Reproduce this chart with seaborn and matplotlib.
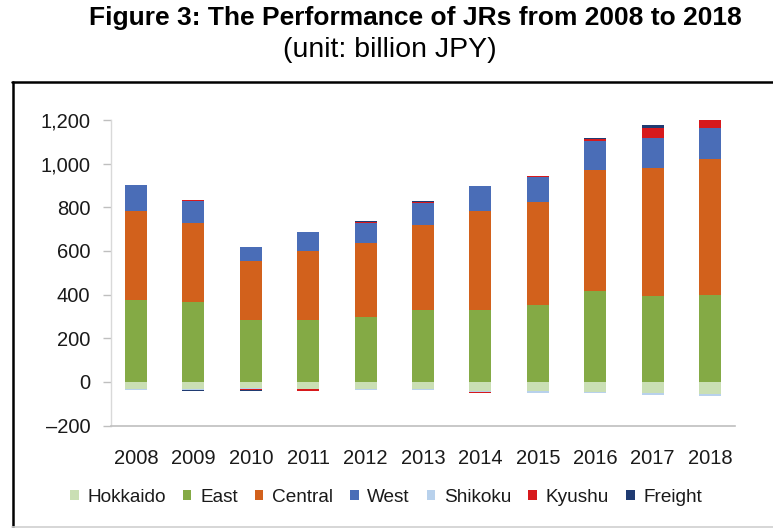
import matplotlib
matplotlib.use("Agg")
import matplotlib.pyplot as plt
import seaborn as sns
import numpy as np
import pandas as pd
from matplotlib.patches import Patch
from matplotlib.lines import Line2D
from matplotlib.ticker import FuncFormatter

years = ["2008", "2009", "2010", "2011", "2012", "2013", "2014", "2015", "2016", "2017", "2018"]
hokkaido = [-32, -33, -27, -32, -32, -33, -43, -44, -47, -53, -56]
east = [375, 366, 285, 285, 298, 330, 330, 353, 415, 394, 398]
central = [408, 362, 271, 316, 340, 388, 455, 473, 556, 587, 622]
west = [118, 100, 61, 86, 90, 103, 113, 111, 131, 138, 145]
shikoku = [-5, -4, -5, -3, -4, -4, -2, -6, -6, -6, -7]
kyushu = [0, 5, -5, -5, 6, 5, -8, 5, 9, 46, 38]
freight = [0, -4, -3, 0, 2, 4, 0, 3, 6, 11, 2]

series_names = ["Hokkaido", "East", "Central", "West", "Shikoku", "Kyushu", "Freight"]
series_values = [hokkaido, east, central, west, shikoku, kyushu, freight]
series_colors = ["#CADFB4", "#84AA45", "#D2611C", "#4A6DB7", "#B8D1EC", "#D7191C", "#203B72"]

yticks = [-200, 0, 200, 400, 600, 800, 1000, 1200]

sns.set_theme(style="white")
plt.rcParams["font.family"] = ["Liberation Sans", "DejaVu Sans"]

fig = plt.figure(figsize=(7.73, 5.28), dpi=100)
ax = fig.add_axes([111 / 773, 1 - 425.5 / 528, (735 - 111) / 773, (425.5 - 120) / 528])

pos_base = np.zeros(len(years))
neg_base = np.zeros(len(years))
for name, vals, col in zip(series_names, series_values, series_colors):
    v = np.array(vals, dtype=float)
    bottom = np.where(v >= 0, pos_base, neg_base)
    df = pd.DataFrame({"year": years, "value": v})
    sns.barplot(data=df, x="year", y="value", order=years, color=col,
                saturation=1, width=0.38, errorbar=None, bottom=bottom,
                linewidth=0, ax=ax)
    pos_base = pos_base + np.where(v >= 0, v, 0)
    neg_base = neg_base + np.where(v < 0, v, 0)

ax.set_xlabel("")
ax.set_ylabel("")
ax.set_xlim(-0.435, 10.435)
ax.set_ylim(-200, 1200)
ax.set_yticks(yticks)
ax.yaxis.set_major_formatter(FuncFormatter(
    lambda v, p: ("\u2013" + f"{int(abs(v)):,}") if v < 0 else f"{int(v):,}"))

for s in ["top", "right"]:
    ax.spines[s].set_visible(False)
ax.spines["left"].set_color("#D9D9D9")
ax.spines["bottom"].set_color("#BFBFBF")
ax.spines["left"].set_linewidth(1.0)
ax.spines["bottom"].set_linewidth(1.2)
ax.tick_params(axis="y", left=True, length=6, width=1, color="#BFBFBF",
               pad=9, labelsize=14.5, labelcolor="#1A1A1A")
ax.tick_params(axis="x", bottom=False, pad=11, labelsize=14.5, labelcolor="#1A1A1A")
ax.grid(False)

fig.text(415 / 773, 1 - 18 / 528, "Figure 3: The Performance of JRs from 2008 to 2018",
         ha="center", va="center", fontsize=19, fontweight="bold", color="black")
fig.text(390 / 773, 1 - 50 / 528, "(unit: billion JPY)",
         ha="center", va="center", fontsize=20.5, color="black")

handles = [Patch(facecolor=c, edgecolor="none", label=n) for n, c in zip(series_names, series_colors)]
fig.legend(handles=handles, loc="center", bbox_to_anchor=(386 / 773, 1 - 497 / 528),
           ncol=7, frameon=False, fontsize=13.7, handlelength=0.45, handleheight=0.45,
           handletextpad=0.45, columnspacing=0.9, labelcolor="#1A1A1A")

# outer frame
fig.add_artist(Line2D([12.5 / 773, 12.5 / 773], [0, 1 - 82 / 528], transform=fig.transFigure,
                      color="black", linewidth=1.8))
fig.add_artist(Line2D([12 / 773, 1], [1 - 82 / 528, 1 - 82 / 528], transform=fig.transFigure,
                      color="black", linewidth=1.8))
fig.add_artist(Line2D([12 / 773, 1], [1 - 526.5 / 528, 1 - 526.5 / 528], transform=fig.transFigure,
                      color="#D0D0D0", linewidth=1.2))

fig.savefig("out.png", dpi=100)
